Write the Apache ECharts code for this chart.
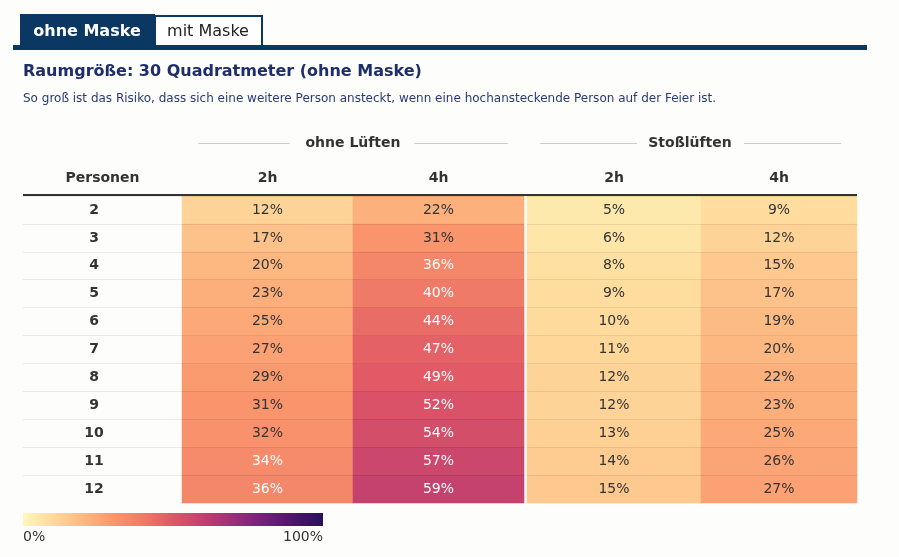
<!DOCTYPE html>
<html>
<head>
<meta charset="utf-8">
<script src="https://cdn.jsdelivr.net/npm/echarts@6/dist/echarts.min.js"></script>
<style>
html,body{margin:0;padding:0;background:#fdfdfc;}
#chart{width:899px;height:557px;}
</style>
</head>
<body>
<div id="chart"></div>
<script>
// ---- data ----
const persons = ['2','3','4','5','6','7','8','9','10','11','12'];
const columnLabels = ['2h','4h','2h','4h'];
const groupLabels = ['ohne Lüften','Stoßlüften'];
const ohneLueften2h = [12,17,20,23,25,27,29,31,32,34,36];
const ohneLueften4h = [22,31,36,40,44,47,49,52,54,57,59];
const stossLueften2h = [5,6,8,9,10,11,12,12,13,14,15];
const stossLueften4h = [9,12,15,17,19,20,22,23,25,26,27];
const scaleColors = ['#fdf8bd','#feda9c','#fdb881','#fa976d','#f07a68','#df5765','#c2406f','#9c2e78','#742179','#4d166b','#2a105c'];
const legendTicks = ['0%','100%'];
const tabLabels = ['ohne Maske','mit Maske'];
const titleText = 'Raumgröße: 30 Quadratmeter (ohne Maske)';
const subtitleText = 'So groß ist das Risiko, dass sich eine weitere Person ansteckt, wenn eine hochansteckende Person auf der Feier ist.';
const rowHeaderLabel = 'Personen';

const columns = [ohneLueften2h, ohneLueften4h, stossLueften2h, stossLueften4h];

// ---- layout ----
const FONT = 'DejaVu Sans';
const NAVY = '#0b3862';
const TOP = 196, HEIGHT = 307;
const gridDefs = [
  {left: 23, width: 159},
  {left: 182, width: 171},
  {left: 353, width: 171},
  {left: 527, width: 174},
  {left: 701, width: 156}
];
const headers = [rowHeaderLabel].concat(columnLabels);

const grid = gridDefs.map(g => ({left: g.left, width: g.width, top: TOP, height: HEIGHT, containLabel: false}));
const xAxis = gridDefs.map((g, i) => ({
  type: 'category', gridIndex: i, position: 'top', data: [headers[i]],
  axisLine: {show: false}, axisTick: {show: false}, splitLine: {show: false},
  axisLabel: {fontFamily: FONT, fontWeight: 'bold', fontSize: 14, color: '#333', margin: 18, verticalAlign: 'middle'}
}));
const yAxis = gridDefs.map((g, i) => ({
  type: 'category', gridIndex: i, data: persons, inverse: true, z: 5,
  axisLine: {show: false}, axisTick: {show: false},
  splitLine: {show: true, showMaxLine: false, lineStyle: {color: 'rgba(0,0,0,0.08)', width: 1}},
  axisLabel: i === 0 ? {show: true, inside: true, margin: 71, align: 'center', fontFamily: FONT, fontWeight: 'bold', fontSize: 14, color: '#333'} : {show: false}
}));

const series = columns.map((vals, c) => ({
  type: 'heatmap', xAxisIndex: c + 1, yAxisIndex: c + 1,
  data: vals.map((v, r) => ({value: [0, r, v], label: {color: v >= 33 ? '#ffffff' : '#333333'}})),
  label: {show: true, fontFamily: FONT, fontSize: 14, formatter: p => p.value[2] + '%'},
  itemStyle: {borderWidth: 0},
  emphasis: {disabled: true},
  z: 2
}));

const chart = echarts.init(document.getElementById('chart'), null, {renderer: 'canvas'});

const gradStops = scaleColors.map((c, i) => ({offset: i / (scaleColors.length - 1), color: c}));

const groupDefs = [
  {cx: 353, l1: [198, 290], l2: [414, 508]},
  {cx: 690, l1: [540, 637], l2: [744, 841]}
];
const graphics = [
  // tabs
  {type: 'rect', shape: {x: 20, y: 14, width: 135, height: 32}, style: {fill: NAVY}},
  {type: 'text', x: 87, y: 32, style: {text: tabLabels[0], fill: '#fff', font: 'bold 16px "DejaVu Sans"', align: 'center', verticalAlign: 'middle'}},
  {type: 'rect', shape: {x: 155, y: 16, width: 107, height: 30}, style: {fill: '#fff', stroke: NAVY, lineWidth: 2}},
  {type: 'text', x: 208, y: 32, style: {text: tabLabels[1], fill: '#222', font: '16px "DejaVu Sans"', align: 'center', verticalAlign: 'middle'}},
  {type: 'rect', shape: {x: 13, y: 45, width: 854, height: 5}, style: {fill: NAVY}},
  // header thick line
  {type: 'rect', shape: {x: 23, y: 194, width: 834, height: 2}, style: {fill: '#333'}, z: 10}
];
groupDefs.forEach((g, i) => {
  graphics.push({type: 'text', x: g.cx, y: 143, style: {text: groupLabels[i], fill: '#333', font: 'bold 14px "DejaVu Sans"', align: 'center', verticalAlign: 'middle'}});
  graphics.push({type: 'line', shape: {x1: g.l1[0], y1: 143.5, x2: g.l1[1], y2: 143.5}, style: {stroke: '#ccc', lineWidth: 1}});
  graphics.push({type: 'line', shape: {x1: g.l2[0], y1: 143.5, x2: g.l2[1], y2: 143.5}, style: {stroke: '#ccc', lineWidth: 1}});
});
// legend
graphics.push({type: 'rect', shape: {x: 23, y: 513, width: 300, height: 13}, style: {fill: new echarts.graphic.LinearGradient(0, 0, 1, 0, gradStops)}});
graphics.push({type: 'text', x: 23, y: 537, style: {text: legendTicks[0], fill: '#333', font: '14px "DejaVu Sans"', align: 'left', verticalAlign: 'middle'}});
graphics.push({type: 'text', x: 323, y: 537, style: {text: legendTicks[1], fill: '#333', font: '14px "DejaVu Sans"', align: 'right', verticalAlign: 'middle'}});

chart.setOption({
  animation: false,
  backgroundColor: '#fdfdfc',
  textStyle: {fontFamily: FONT},
  title: [
    {text: titleText, left: 23, top: 62, padding: 0, textStyle: {fontFamily: FONT, fontSize: 16, fontWeight: 'bold', color: '#1e2e6a', lineHeight: 20}},
    {text: subtitleText, left: 23, top: 92, padding: 0, textStyle: {fontFamily: FONT, fontSize: 12, fontWeight: 'normal', color: '#283a72', lineHeight: 14}}
  ],
  grid: grid,
  xAxis: xAxis,
  yAxis: yAxis,
  visualMap: {show: false, type: 'continuous', min: 0, max: 100, dimension: 2, seriesIndex: [0, 1, 2, 3], inRange: {color: scaleColors}},
  series: series,
  graphic: graphics
});
</script>
</body>
</html>
